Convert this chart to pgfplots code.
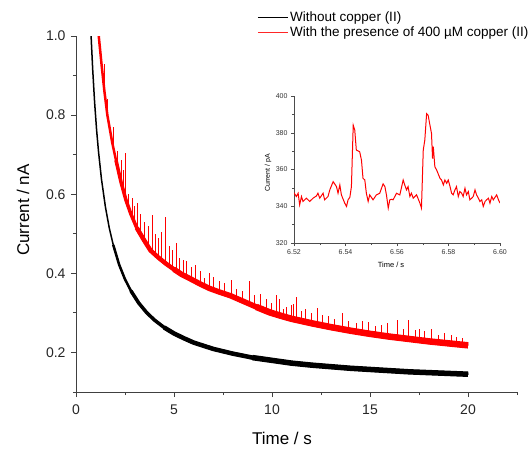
\documentclass[border=0pt]{standalone}
\usepackage{fontspec}
\setmainfont{Liberation Sans}
\usepackage{pgfplots}
\usepackage{pgfplotstable}
\pgfplotsset{compat=1.18}

\pgfplotstableread{
t v
0.77 1.000
0.85 0.917
0.95 0.832
1.05 0.763
1.15 0.707
1.3 0.638
1.5 0.568
1.7 0.514
1.9 0.472
2.2 0.422
2.5 0.385
2.8 0.356
3.2 0.325
3.6 0.301
4.0 0.282
4.5 0.263
5.0 0.248
5.5 0.236
6.0 0.225
7 0.209
8 0.197
9 0.187
10 0.180
11 0.173
12 0.168
13 0.164
14 0.160
15 0.157
16 0.154
17 0.151
18 0.149
19 0.147
20 0.145
}\blackdata

\pgfplotstableread{
t v
1.16 1.00
1.3 0.93
1.45 0.86
1.6 0.80
1.7 0.772
1.85 0.73
2.04 0.686
2.3 0.63
2.55 0.585
2.8 0.55
3.1 0.515
3.47 0.484
3.8 0.458
4.2 0.44
4.6 0.424
5.0 0.41
5.4 0.397
5.8 0.387
6.3 0.374
6.8 0.362
7.3 0.353
7.9 0.343
8.5 0.330
9.2 0.315
9.9 0.301
10.5 0.292
11 0.285
12 0.274
13 0.264
14 0.255
15 0.247
16 0.240
17 0.234
18 0.228
19 0.223
20 0.218
}\reddata

\pgfplotstableread{
t v
6.5200 347.4
6.5209 345.3
6.5216 347.1
6.5222 340.8
6.5229 345.3
6.5235 342.6
6.5248 344.4
6.5261 342.6
6.5274 344.4
6.5287 345.6
6.5293 347.1
6.5300 344.4
6.5313 347.1
6.5319 343.5
6.5332 345.3
6.5339 348.9
6.5352 353.4
6.5365 350.7
6.5371 347.1
6.5378 351.6
6.5384 346.2
6.5397 341.7
6.5404 339.9
6.5410 343.5
6.5417 344.9
6.5423 350.7
6.5430 384.1
6.5436 381.4
6.5442 370.6
6.5455 369.7
6.5462 365.1
6.5468 355.2
6.5475 354.3
6.5481 347.1
6.5488 342.6
6.5494 346.2
6.5507 343.5
6.5520 346.2
6.5533 347.1
6.5546 352.2
6.5553 350.7
6.5559 346.2
6.5566 339.0
6.5572 343.5
6.5579 343.8
6.5585 343.5
6.5598 347.1
6.5611 346.2
6.5624 354.3
6.5630 351.6
6.5637 348.9
6.5643 350.7
6.5650 345.3
6.5656 347.1
6.5663 344.4
6.5676 346.2
6.5689 341.7
6.5695 339.0
6.5702 370.6
6.5708 376.0
6.5715 390.4
6.5721 389.5
6.5728 384.1
6.5734 379.6
6.5738 366.0
6.5741 372.4
6.5747 361.5
6.5754 359.7
6.5767 355.2
6.5773 354.3
6.5780 351.6
6.5786 354.3
6.5793 352.5
6.5799 354.3
6.5806 350.7
6.5812 347.1
6.5818 346.2
6.5825 348.9
6.5831 350.7
6.5838 345.3
6.5844 348.0
6.5851 347.1
6.5857 345.3
6.5864 349.8
6.5870 346.2
6.5877 348.0
6.5883 343.5
6.5890 344.4
6.5896 345.3
6.5903 348.9
6.5909 346.2
6.5916 344.4
6.5922 342.6
6.5929 343.5
6.5935 339.9
6.5942 342.6
6.5948 343.5
6.5955 344.4
6.5961 341.7
6.5968 345.3
6.5974 343.5
6.5987 346.2
6.5994 343.5
6.6000 341.7
}\insetdata

\begin{document}
\begin{tikzpicture}
\useasboundingbox (-76pt,-56pt) rectangle (456pt,392pt);
\begin{axis}[
  at={(0pt,0pt)}, anchor=south west,
  scale only axis, width=442pt, height=356pt,
  xmin=0, xmax=22.55, ymin=0.1, ymax=1.0,
  axis lines=left, axis line style={-, black!75, line width=0.9pt},
  xtick={0,5,10,15,20}, xticklabels={0,5,10,15,20},
  minor xtick={2.5,7.5,12.5,17.5,22.5},
  ytick={0.2,0.4,0.6,0.8,1.0}, yticklabels={0.2,0.4,0.6,0.8,1.0},
  minor ytick={0.1,0.3,0.5,0.7,0.9},
  tick align=outside, major tick length=5pt, minor tick length=3pt,
  tick style={black!75, line width=0.8pt},
  ticklabel style={font=\fontsize{14}{16}\selectfont, text=black!85},
  yticklabel style={xshift=-2pt},
  xticklabel style={yshift=-4pt},
  xlabel={Time / s}, ylabel={Current / nA},
  xlabel style={at={(axis description cs:0.466,-0.129)}, anchor=center, font=\fontsize{17}{20}\selectfont},
  ylabel style={at={(axis description cs:-0.12,0.511)}, anchor=center, font=\fontsize{17}{20}\selectfont},
  unbounded coords=jump,
  legend style={draw=none, fill=none, at={(axis description cs:0.41,1.075)}, anchor=north west,
    font=\fontsize{13.5}{15}\selectfont, row sep=0pt, inner sep=0pt},
  legend cell align=left,
  legend image code/.code={\draw[#1] (-2pt,0pt) -- (28pt,0pt);},
]
\addlegendimage{black, line width=0.8pt}
\addlegendentry{Without copper (II)}
\addlegendimage{red!85, line width=0.8pt}
\addlegendentry{With the presence of 400 µM copper (II)}

\addplot[black, line width=1.5pt, forget plot] table[x=t,y=v] {\blackdata};
\addplot[black, line width=2.5pt, forget plot, restrict x to domain=1.9:20] table[x=t,y=v] {\blackdata};
\addplot[black, line width=3.5pt, forget plot, restrict x to domain=2.8:20] table[x=t,y=v] {\blackdata};
\addplot[black, line width=4.5pt, forget plot, restrict x to domain=4.5:20] table[x=t,y=v] {\blackdata};
\addplot[black, line width=5.5pt, forget plot, restrict x to domain=9:20] table[x=t,y=v] {\blackdata};

\addplot[red, line width=1pt, forget plot] coordinates {
(1.45,0.86) (1.45,0.93) (1.45,nan)
(1.62,0.80) (1.62,0.84) (1.62,nan)
(1.9,0.72) (1.9,0.77) (1.9,nan)
(2.12,0.67) (2.12,0.71) (2.12,nan)
(2.3,0.63) (2.3,0.686) (2.3,nan)
(2.42,0.61) (2.42,0.66) (2.42,nan)
(2.55,0.585) (2.55,0.704) (2.55,nan)
(2.7,0.56) (2.7,0.60) (2.7,nan)
(2.89,0.54) (2.89,0.59) (2.89,nan)
(3.0,0.525) (3.0,0.57) (3.0,nan)
(3.16,0.51) (3.16,0.577) (3.16,nan)
(3.3,0.50) (3.3,0.55) (3.3,nan)
(3.5,0.482) (3.5,0.53) (3.5,nan)
(3.7,0.466) (3.7,0.52) (3.7,nan)
(3.88,0.455) (3.88,0.547) (3.88,nan)
(4.05,0.447) (4.05,0.50) (4.05,nan)
(4.2,0.44) (4.2,0.49) (4.2,nan)
(4.37,0.433) (4.37,0.505) (4.37,nan)
(4.59,0.424) (4.59,0.543) (4.59,nan)
(4.75,0.418) (4.75,0.47) (4.75,nan)
(4.9,0.413) (4.9,0.46) (4.9,nan)
(5.14,0.405) (5.14,0.476) (5.14,nan)
(5.3,0.40) (5.3,0.44) (5.3,nan)
(5.47,0.395) (5.47,0.433) (5.47,nan)
(5.65,0.39) (5.65,0.43) (5.65,nan)
(5.9,0.385) (5.9,0.416) (5.9,nan)
(6.1,0.379) (6.1,0.42) (6.1,nan)
(6.33,0.373) (6.33,0.406) (6.33,nan)
(6.58,0.367) (6.58,0.387) (6.58,nan)
(6.8,0.362) (6.8,0.40) (6.8,nan)
(7.0,0.358) (7.0,0.39) (7.0,nan)
(7.3,0.353) (7.3,0.38) (7.3,nan)
(7.6,0.348) (7.6,0.375) (7.6,nan)
(7.94,0.342) (7.94,0.382) (7.94,nan)
(8.2,0.336) (8.2,0.36) (8.2,nan)
(8.5,0.330) (8.5,0.355) (8.5,nan)
(8.85,0.322) (8.85,0.380) (8.85,nan)
(9.1,0.317) (9.1,0.345) (9.1,nan)
(9.39,0.311) (9.39,0.349) (9.39,nan)
(9.7,0.305) (9.7,0.335) (9.7,nan)
(9.95,0.300) (9.95,0.325) (9.95,nan)
(10.24,0.296) (10.24,0.344) (10.24,nan)
(10.4,0.294) (10.4,0.335) (10.4,nan)
(10.58,0.291) (10.58,0.31) (10.58,nan)
(10.75,0.289) (10.75,0.315) (10.75,nan)
(11.0,0.285) (11.0,0.319) (11.0,nan)
(11.1,0.284) (11.1,0.323) (11.1,nan)
(11.26,0.282) (11.26,0.34) (11.26,nan)
(11.5,0.279) (11.5,0.305) (11.5,nan)
(11.7,0.277) (11.7,0.31) (11.7,nan)
(12.0,0.274) (12.0,0.30) (12.0,nan)
(12.3,0.271) (12.3,0.313) (12.3,nan)
(12.6,0.268) (12.6,0.295) (12.6,nan)
(12.87,0.265) (12.87,0.291) (12.87,nan)
(13.2,0.262) (13.2,0.285) (13.2,nan)
(13.59,0.259) (13.59,0.300) (13.59,nan)
(13.9,0.256) (13.9,0.28) (13.9,nan)
(14.3,0.253) (14.3,0.275) (14.3,nan)
(14.6,0.250) (14.6,0.28) (14.6,nan)
(14.92,0.248) (14.92,0.278) (14.92,nan)
(15.3,0.245) (15.3,0.268) (15.3,nan)
(15.6,0.243) (15.6,0.27) (15.6,nan)
(15.9,0.241) (15.9,0.275) (15.9,nan)
(16.4,0.237) (16.4,0.283) (16.4,nan)
(16.7,0.236) (16.7,0.26) (16.7,nan)
(16.96,0.234) (16.96,0.281) (16.96,nan)
(17.3,0.232) (17.3,0.258) (17.3,nan)
(17.55,0.231) (17.55,0.26) (17.55,nan)
(17.8,0.229) (17.8,0.253) (17.8,nan)
(18.15,0.227) (18.15,0.26) (18.15,nan)
(18.5,0.225) (18.5,0.245) (18.5,nan)
(18.8,0.224) (18.8,0.25) (18.8,nan)
(19.16,0.222) (19.16,0.243) (19.16,nan)
(19.4,0.221) (19.4,0.24) (19.4,nan)
(19.7,0.219) (19.7,0.237) (19.7,nan)
};
\addplot[red, line width=2.5pt, forget plot] table[x=t,y=v] {\reddata};
\addplot[red, line width=3.5pt, forget plot, restrict x to domain=2.0:20] table[x=t,y=v] {\reddata};
\addplot[red, line width=4.5pt, forget plot, restrict x to domain=3.0:20] table[x=t,y=v] {\reddata};
\addplot[red, line width=5.5pt, forget plot, restrict x to domain=5.0:20] table[x=t,y=v] {\reddata};
\addplot[red, line width=6.5pt, forget plot, restrict x to domain=9.2:20] table[x=t,y=v] {\reddata};
\end{axis}

\begin{axis}[
  at={(218pt,149pt)}, anchor=south west,
  scale only axis, width=206pt, height=147pt,
  xmin=6.52, xmax=6.60, ymin=320, ymax=400,
  axis lines=left, axis line style={-, black!70, line width=0.6pt},
  xtick={6.52,6.54,6.56,6.58,6.60}, xticklabels={6.52,6.54,6.56,6.58,6.60},
  minor xtick={6.53,6.55,6.57,6.59},
  ytick={320,340,360,380,400}, yticklabels={320,340,360,380,400},
  minor ytick={330,350,370,390},
  tick align=outside, major tick length=3pt, minor tick length=2pt,
  tick style={black!70, line width=0.5pt},
  ticklabel style={font=\fontsize{7}{8}\selectfont, text=black!80},
  xlabel={Time / s}, ylabel={Current / pA},
  xlabel style={at={(axis description cs:0.471,-0.15)}, anchor=center, font=\fontsize{7.5}{9}\selectfont},
  ylabel style={at={(axis description cs:-0.126,0.476)}, anchor=center, font=\fontsize{7}{8}\selectfont},
]
\addplot[red, line width=1pt] table[x=t,y=v] {\insetdata};
\end{axis}
\end{tikzpicture}
\end{document}
